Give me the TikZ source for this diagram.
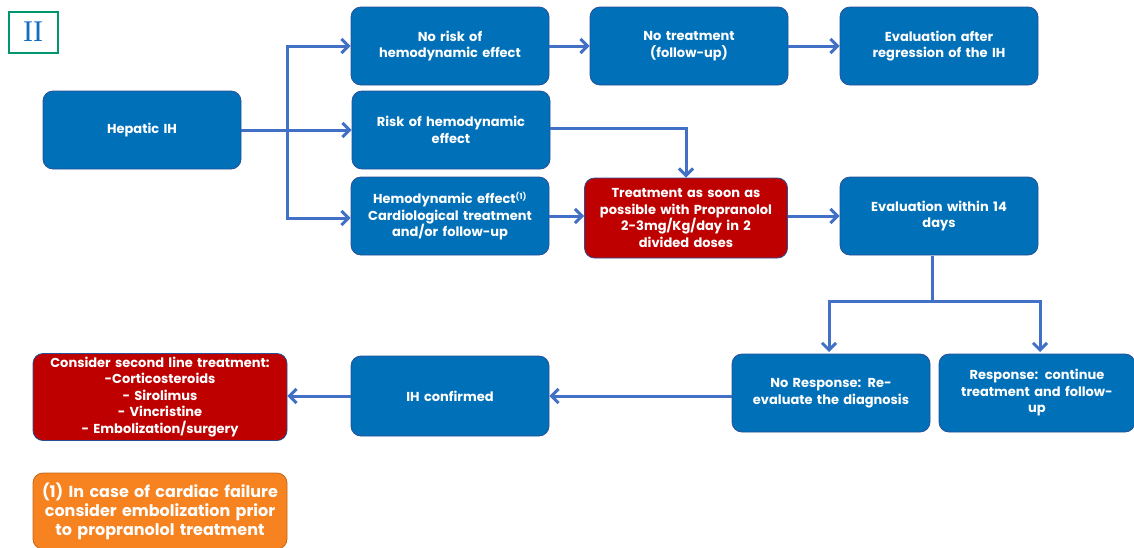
\documentclass[tikz,border=0pt]{standalone}
\usepackage{fontspec}
\setmainfont{Poppins}
\newfontfamily\labelserif{Liberation Serif}
\usetikzlibrary{arrows.meta}
\definecolor{boxblue}{RGB}{0,112,184}
\definecolor{boxedge}{RGB}{40,80,150}
\definecolor{boxred}{RGB}{190,0,0}
\definecolor{boxorange}{RGB}{246,130,32}
\definecolor{linkblue}{RGB}{66,112,198}
\definecolor{tagedge}{RGB}{0,150,110}
\definecolor{tagtext}{RGB}{20,110,190}
\tikzset{
  flowbox/.style={draw=boxedge, line width=0.8pt, fill=boxblue, rounded corners=10pt,
    minimum width=198pt, minimum height=78pt, text width=190pt, align=center,
    text=white, font=\fontsize{13}{16.5}\selectfont\bfseries, inner sep=2pt},
  redbox/.style={flowbox, fill=boxred},
  notebox/.style={flowbox, fill=boxorange, draw=boxorange!80!black, font=\fontsize{16}{19}\selectfont\bfseries},
  link/.style={draw=linkblue, line width=3pt, -{Straight Barb[length=7pt,width=14pt,line width=3pt]}},
  plain/.style={draw=linkblue, line width=3pt}
}
\begin{document}
\begin{tikzpicture}[x=1pt,y=-1pt]
\useasboundingbox (0,0) rectangle (1134,547);
\fill[white] (0,0) rectangle (1134,547);

% section tag
\node[draw=tagedge, line width=2pt, minimum width=49pt, minimum height=41pt, text=tagtext,
  font=\labelserif\fontsize{30}{30}\selectfont] (tag) at (33,32) {II};

% boxes
\node[flowbox] (hep) at (142,130) {Hepatic IH};
\node[flowbox] (norisk) at (450,46) {No risk of\\hemodynamic effect};
\node[flowbox] (notreat) at (689,46) {No treatment\\(follow-up)};
\node[flowbox] (evalafter) at (939,46) {Evaluation after\\regression of the IH};
\node[flowbox] (risk) at (451,130) {Risk of hemodynamic\\effect};
\node[flowbox] (hemo) at (450,216) {Hemodynamic effect\textsuperscript{\fontsize{8}{8}\selectfont(1)}\\Cardiological treatment\\and/or follow-up};
\node[redbox, minimum width=203pt, minimum height=80pt] (prop) at (686,218) {Treatment as soon as\\possible with Propranolol\\2-3mg/Kg/day in 2\\divided doses};
\node[flowbox] (evalwithin) at (939,216) {Evaluation within 14\\days};
\node[flowbox] (noresp) at (831,393) {No Response: Re-\\evaluate the diagnosis};
\node[flowbox, minimum width=196pt] (resp) at (1037,393) {Response: continue\\treatment and follow-\\up};
\node[flowbox, minimum height=80pt] (conf) at (450,396) {IH confirmed};
\node[redbox, minimum width=254pt, minimum height=87pt, text width=250pt] (second) at (160,397)
  {Consider second line treatment:\\-Corticosteroids\\- Sirolimus\\- Vincristine\\- Embolization/surgery};
\node[notebox, minimum width=254pt, minimum height=76pt, text width=250pt] (note) at (160,511)
  {(1) In case of cardiac failure\\consider embolization prior\\to propranolol treatment};

% branching from the hepatic box
\coordinate (split) at (287,130);
\coordinate (splittop) at (287,46);
\coordinate (splitbot) at (287,218);
\draw[link] (hep.east) -- (risk.west);
\draw[plain, line cap=rect] (splittop) -- (splitbot);
\draw[link] (splittop) -- (norisk.west);
\draw[link] (splitbot) -- (hemo.west |- splitbot);

% first row
\draw[link] (norisk.east) -- (notreat.west);
\draw[link] (notreat.east) -- (evalafter.west);

% towards propranolol
\coordinate (riskturn) at (686,128);
\draw[link] (risk.east |- riskturn) -- (riskturn) -- (prop.north);
\draw[link] (hemo.east) -- (prop.west |- hemo.east);
\draw[link] (prop.east |- evalwithin.west) -- (evalwithin.west);

% response split
\coordinate (evdown) at (932,256);
\coordinate (fork) at (932,301);
\coordinate (forkl) at (829,301);
\coordinate (forkr) at (1040,301);
\draw[plain] (evdown) -- (fork);
\draw[plain, line cap=rect] (forkl) -- (forkr);
\draw[link] (forkl) -- (829,352);
\draw[link] (forkr) -- (1040,352);

% bottom row
\draw[link] (noresp.west |- conf.east) -- (conf.east);
\draw[link] (conf.west) -- (second.east |- conf.west);
\end{tikzpicture}
\end{document}
